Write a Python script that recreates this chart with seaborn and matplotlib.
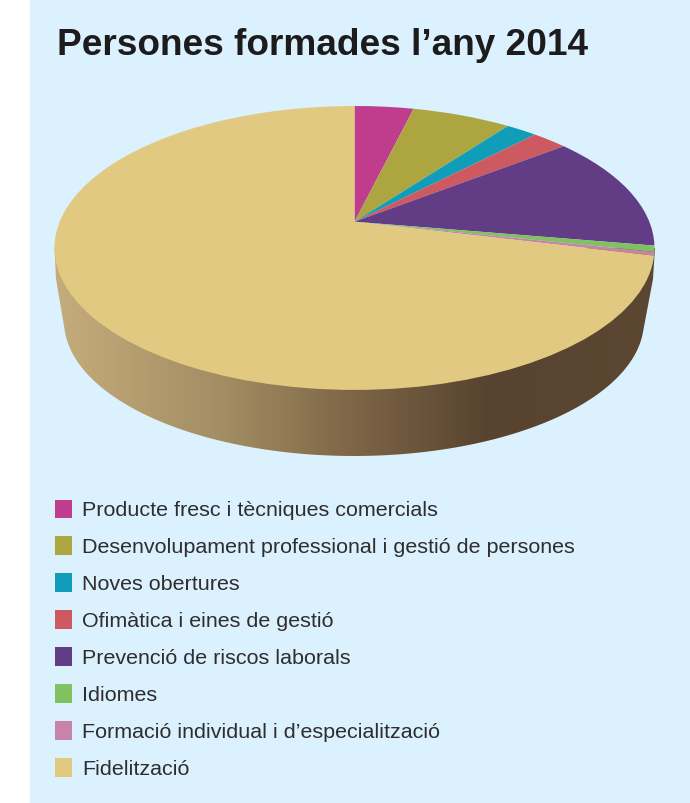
import numpy as np
import matplotlib
matplotlib.use('Agg')
import matplotlib.pyplot as plt
import matplotlib.transforms as mtransforms
from matplotlib.colors import LinearSegmentedColormap
from matplotlib.legend_handler import HandlerPatch
from matplotlib.patches import Polygon, Wedge
import seaborn as sns

# Values, in percent
categories = [
    'Producte fresc i tècniques comercials',
    'Desenvolupament professional i gestió de persones',
    'Noves obertures',
    'Ofimàtica i eines de gestió',
    'Prevenció de riscos laborals',
    'Idiomes',
    'Formació individual i d’especialització',
    'Fidelització',
]
shares = [3.8, 6.4, 2.0, 2.3, 13.2, 0.7, 0.4, 71.2]
colors = ['#bf3d8c', '#ada640', '#0f9dba', '#cd5a60', '#623c84', '#7fc25f', '#c883ab', '#e1c982']
title = 'Persones formades l’any 2014'

sns.set_theme(style='white')
plt.rcParams['font.family'] = ['Liberation Sans', 'DejaVu Sans']


# Tilts the flat pie, top of the disc is further away than the bottom
class Tilt(mtransforms.Transform):
    input_dims = 2
    output_dims = 2

    def transform_non_affine(self, xy):
        xy = np.asarray(xy, dtype=float)
        k = 0.185
        w = 1 + k * xy[:, 1]
        return np.column_stack([354.5 + 294.8 * xy[:, 0] / w, 222.7 - 137.1 * xy[:, 1] / w])


fig = plt.figure(figsize=(6.9, 8.04), dpi=100)
ax = fig.add_axes([0, 0, 1, 1])

wedges, _ = ax.pie(shares, colors=sns.color_palette(colors), startangle=90, counterclock=False,
                   wedgeprops={'linewidth': 0, 'zorder': 3})
tilt = Tilt()
for w in wedges:
    w.set_transform(tilt + ax.transData)
    w.set_clip_on(False)

ax.set_aspect('auto')
ax.axvspan(30, 690, color='#dbf1fd', lw=0, zorder=0)

# Side wall of the disc
wall_cmap = LinearSegmentedColormap.from_list('wall', [
    (0.0, '#c5ac7c'), (0.3, '#a08a60'), (0.5, '#7d6546'), (0.725, '#57432f'), (1.0, '#5c4733')])
im = ax.imshow(np.linspace(0, 1, 300)[None, :], cmap=wall_cmap, aspect='auto',
               extent=(54, 655, 458, 249), zorder=1)
t = np.linspace(np.pi - 0.1, 0.1, 120)
outline = np.column_stack([354 + 290 * np.cos(t), 322 + 135 * np.sin(t)])
outline = np.vstack([[54.5, 249], [56, 280], outline, [653, 280], [655, 249]])
im.set_clip_path(Polygon(outline, transform=ax.transData))

ax.text(57, 55, title, fontsize=26.65, fontweight='bold', color='#1d1b1c', va='baseline')

leg = ax.legend(wedges, categories, loc='upper left', bbox_to_anchor=(55, 500.5),
                bbox_transform=ax.transData, frameon=False, fontsize=15.45,
                handlelength=0.79, handleheight=0.79, handletextpad=0.47,
                labelspacing=0.81, borderpad=0, borderaxespad=0, labelcolor='#2f2d2e',
                handler_map={Wedge: HandlerPatch(ypad=-0.09)})

ax.set_xlim(0, 690)
ax.set_ylim(804, 0)
ax.axis('off')
fig.savefig('out.png', dpi=100)
